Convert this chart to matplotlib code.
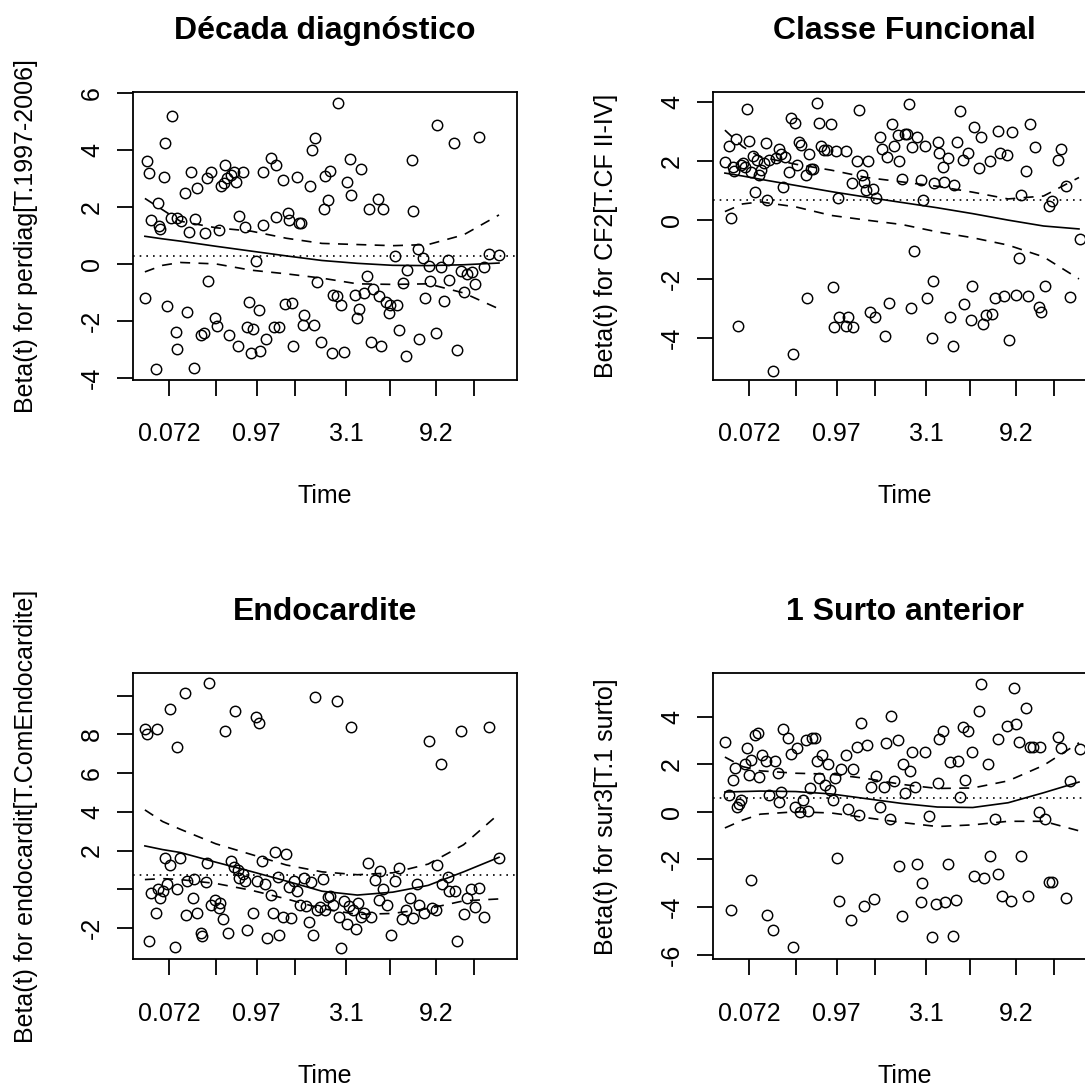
import matplotlib
matplotlib.use("Agg")
import matplotlib.pyplot as plt

plt.rcParams['font.family'] = ['Liberation Sans', 'DejaVu Sans']
plt.rcParams['axes.unicode_minus'] = False

# x axis is the km-transformed time (0..1), ticks show the real time
time_ticks = [0.068, 0.201, 0.316, 0.425, 0.568, 0.693, 0.822, 0.93]
time_labels = ['0.072', '', '0.97', '', '3.1', '', '9.2', '']

# grid of the smoothed beta(t) curves
fit_x = [0, 0.05, 0.1, 0.2, 0.3, 0.4, 0.5, 0.6, 0.7, 0.8, 0.9, 1.0]

# ---- Decada diagnostico (perdiag) ----
perdiag_pts = [(0.006,3.62),(0.011,3.2),(0.0,-1.21),(0.016,1.55),(0.036,2.15),(0.040,1.33),(0.044,1.21),(0.030,-3.68),
    (0.057,4.26),(0.077,5.18),(0.054,3.06),(0.062,-1.49),(0.074,1.6),(0.087,-2.38),(0.091,-2.98),(0.091,1.6),(0.101,1.5),
    (0.114,2.5),(0.119,-1.69),(0.124,1.12),(0.131,3.22),(0.141,1.57),(0.138,-3.66),(0.148,2.66),(0.159,-2.48),(0.166,-2.43),
    (0.171,1.07),(0.174,3.0),(0.179,-0.6),(0.187,3.24),(0.197,-1.9),(0.203,-2.17),(0.21,1.18),(0.214,2.72),(0.227,3.49),
    (0.223,2.84),(0.232,3.02),(0.237,-2.48),(0.244,3.12),(0.252,3.24),(0.257,2.87),(0.262,-2.87),(0.267,1.67),(0.277,3.24),
    (0.283,1.3),(0.293,-1.33),(0.289,-2.23),(0.304,-2.29),(0.300,-3.12),(0.315,0.11),(0.322,-1.63),(0.325,-3.06),(0.334,3.22),
    (0.334,1.36),(0.342,-2.63),(0.356,3.73),(0.364,-2.23),(0.370,3.49),(0.380,-2.23),(0.390,2.93),(0.369,1.65),(0.396,-1.41),
    (0.404,1.78),(0.406,1.53),(0.415,-1.37),(0.419,-2.9),(0.429,3.04),(0.435,1.45),(0.442,1.45),(0.450,-1.78),(0.446,-2.14),
    (0.466,2.72),(0.471,3.99),(0.48,4.41),(0.478,-2.14),(0.485,-0.64),(0.497,-2.74),(0.505,1.93),(0.508,3.1),(0.517,2.26),
    (0.523,3.26),(0.527,-3.14),(0.532,-1.1),(0.542,-1.11),(0.544,5.64),(0.554,-1.45),(0.563,-3.1),(0.572,2.86),(0.578,3.68),
    (0.583,2.42),(0.592,-1.09),(0.599,-1.9),(0.605,-1.57),(0.61,3.35),(0.619,-1.03),(0.628,-0.42),(0.633,1.93),(0.639,-2.75),
    (0.645,-0.88),(0.657,2.29),(0.660,-1.12),(0.667,-2.87),(0.672,1.93),(0.680,-1.33),(0.688,-1.73),(0.693,-1.45),(0.707,0.28),
    (0.712,-1.45),(0.717,-2.33),(0.729,-0.66),(0.736,-3.24),(0.740,-0.22),(0.753,3.65),(0.758,1.87),(0.770,0.54),(0.775,-2.62),
    (0.784,0.21),(0.792,-1.21),(0.801,-0.06),(0.806,-0.6),(0.821,-2.42),(0.826,4.89),(0.836,-0.12),(0.845,-1.29),(0.855,0.14),
    (0.858,-0.57),(0.874,4.26),(0.882,-3.04),(0.892,-0.24),(0.901,-0.97),(0.909,-0.36),(0.923,-0.3),(0.933,-0.72),(0.943,4.47),
    (0.957,-0.12),(0.972,0.34),(0.999,0.33)]
perdiag_fit = [0.97, 0.88, 0.8, 0.62, 0.45, 0.28, 0.12, 0.02, -0.05, -0.06, -0.03, 0.03]
perdiag_up = [2.3, 1.9, 1.5, 1.27, 1.15, 0.9, 0.72, 0.68, 0.64, 0.68, 1.02, 1.72]
perdiag_lo = [-0.28, -0.05, 0.05, 0.0, -0.22, -0.35, -0.5, -0.7, -0.72, -0.7, -1.02, -1.58]
perdiag_coef = 0.28

# ---- Classe Funcional (CF2) ----
cf2_pts = [(0,1.96),(0.012,2.53),(0.017,0.08),(0.022,1.79),(0.026,1.68),(0.032,2.76),(0.038,-3.59),(0.046,1.88),(0.051,1.94),
    (0.056,1.82),(0.063,3.79),(0.069,2.68),(0.073,1.65),(0.078,2.18),(0.085,0.94),(0.092,2.06),(0.097,1.53),(0.103,1.71),
    (0.11,1.94),(0.115,2.62),(0.12,0.67),(0.125,2.06),(0.136,-5.12),(0.144,2.12),(0.152,2.41),(0.159,2.24),(0.164,1.12),
    (0.169,2.14),(0.182,1.65),(0.186,3.47),(0.193,-4.55),(0.198,3.29),(0.203,1.88),(0.208,2.65),(0.215,2.55),(0.228,1.53),
    (0.233,-2.65),(0.238,2.24),(0.244,1.74),(0.25,1.74),(0.26,3.99),(0.267,3.29),(0.272,2.53),(0.28,2.39),(0.287,2.39),
    (0.301,3.26),(0.306,-2.29),(0.313,2.35),(0.319,0.76),(0.323,-3.29),(0.309,-3.62),(0.341,2.35),(0.349,-3.29),(0.341,-3.61),
    (0.358,1.27),(0.362,-3.65),(0.373,2.0),(0.38,3.73),(0.388,1.53),(0.393,1.29),(0.398,1.02),(0.404,2.0),(0.409,-3.12),
    (0.419,1.06),(0.427,0.76),(0.424,-3.29),(0.439,2.82),(0.444,2.41),(0.451,-3.94),(0.457,2.15),(0.463,-2.82),(0.471,3.26),
    (0.478,2.53),(0.488,2.91),(0.493,2.02),(0.501,1.41),(0.508,2.94),(0.515,2.94),(0.519,3.94),(0.525,-2.98),(0.529,2.47),
    (0.535,-1.06),(0.542,2.82),(0.554,1.35),(0.559,0.67),(0.566,2.53),(0.571,-2.65),(0.584,-4.0),(0.588,-2.08),(0.591,1.26),
    (0.601,2.65),(0.606,2.29),(0.616,1.82),(0.62,1.29),(0.63,2.12),(0.635,-3.29),(0.643,-4.27),(0.648,1.18),(0.655,2.65),
    (0.663,3.71),(0.673,2.04),(0.676,-2.86),(0.686,2.29),(0.694,-3.41),(0.699,-2.24),(0.704,3.18),(0.719,1.76),(0.724,2.82),
    (0.728,-3.53),(0.738,-3.21),(0.748,2.0),(0.753,-3.18),(0.763,-2.65),(0.771,3.02),(0.777,2.29),(0.787,-2.59),(0.797,2.2),
    (0.802,-4.09),(0.812,2.98),(0.822,-2.53),(0.83,-1.29),(0.836,0.85),(0.851,1.67),(0.856,-2.59),(0.863,3.26),(0.876,2.47),
    (0.886,-2.94),(0.892,-3.12),(0.905,-2.24),(0.915,0.47),(0.925,0.65),(0.94,2.04),(0.949,2.41),(0.964,1.15),(0.974,-2.62),
    (1.003,-0.65)]
cf2_fit = [1.6, 1.5, 1.39, 1.18, 0.97, 0.78, 0.6, 0.42, 0.22, 0.0, -0.2, -0.3]
cf2_up = [3.06, 2.5, 2.15, 1.9, 1.7, 1.45, 1.3, 1.15, 0.95, 0.72, 0.82, 1.45]
cf2_lo = [0.29, 0.55, 0.62, 0.45, 0.16, 0.0, -0.15, -0.4, -0.6, -0.85, -1.25, -2.0]
cf2_coef = 0.7

# ---- Endocardite ----
endo_pts = [(0,8.29),(0.007,8.02),(0.012,-2.7),(0.016,-0.18),(0.03,-1.23),(0.035,8.29),(0.038,0.0),(0.043,-0.45),(0.05,-0.09),
    (0.056,1.59),(0.063,0.27),(0.07,1.26),(0.072,9.33),(0.085,-2.97),(0.091,7.35),(0.091,0.0),(0.1,1.59),(0.114,10.13),
    (0.116,-1.32),(0.12,0.45),(0.135,-0.45),(0.14,0.54),(0.147,-1.23),(0.158,-2.25),(0.162,-2.43),(0.172,0.36),(0.174,1.35),
    (0.18,10.67),(0.186,-0.81),(0.198,-0.54),(0.208,-0.99),(0.213,-0.72),(0.221,-1.53),(0.226,8.2),(0.235,-2.25),(0.242,1.44),
    (0.252,1.17),(0.255,9.23),(0.262,0.99),(0.267,0.58),(0.276,0.81),(0.283,0.45),(0.288,-2.13),(0.305,-1.23),(0.313,8.92),
    (0.322,8.61),(0.318,0.45),(0.332,1.44),(0.339,0.27),(0.344,-2.52),(0.357,-0.32),(0.362,-1.23),(0.367,1.93),(0.376,0.63),
    (0.38,-2.38),(0.39,-1.44),(0.398,1.8),(0.406,0.13),(0.412,-1.48),(0.422,0.45),(0.429,-0.09),(0.437,-0.81),(0.449,0.58),
    (0.456,-0.86),(0.464,-1.71),(0.469,0.36),(0.474,-2.38),(0.481,9.95),(0.487,-1.05),(0.495,-0.9),(0.503,0.54),(0.51,-1.08),
    (0.517,-0.4),(0.524,-0.36),(0.532,-0.81),(0.542,9.73),(0.549,-1.41),(0.553,-3.06),(0.563,-0.63),(0.571,-1.8),(0.575,-0.86),
    (0.583,8.38),(0.588,-1.08),(0.597,-2.07),(0.602,-0.72),(0.61,-1.41),(0.62,-1.23),(0.631,1.35),(0.639,-1.41),(0.651,0.5),
    (0.66,-0.54),(0.665,0.94),(0.672,0.0),(0.685,-0.81),(0.694,-2.34),(0.707,0.45),(0.717,1.08),(0.727,-1.53),(0.736,-1.08),
    (0.748,-0.45),(0.756,-1.5),(0.768,0.27),(0.775,-0.81),(0.789,-1.23),(0.802,7.66),(0.811,-0.99),(0.821,-1.05),(0.826,1.26),
    (0.836,6.49),(0.84,0.27),(0.855,0.63),(0.86,-0.09),(0.875,-0.09),(0.882,-2.67),(0.894,8.2),(0.901,-1.3),(0.909,-0.45),
    (0.92,0.0),(0.933,-0.9),(0.943,0.04),(0.957,-1.44),(0.972,8.38),(1.0,1.59)]
endo_fit = [2.24, 2.05, 1.9, 1.4, 0.92, 0.42, -0.1, -0.3, -0.15, 0.2, 0.9, 1.65]
endo_up = [4.1, 3.5, 3.1, 2.35, 1.8, 1.25, 0.9, 0.75, 0.85, 1.3, 2.3, 3.9]
endo_lo = [0.5, 0.55, 0.5, 0.3, -0.05, -0.5, -1.0, -1.3, -1.25, -1.0, -0.6, -0.5]
endo_coef = 0.72

# ---- 1 Surto anterior (sur3) ----
sur3_pts = [(0,2.95),(0.012,0.7),(0.017,-4.13),(0.024,1.35),(0.028,1.86),(0.034,0.19),(0.041,0.33),(0.046,0.48),(0.056,2.0),
    (0.063,2.66),(0.068,1.54),(0.074,-2.87),(0.074,2.18),(0.085,3.24),(0.093,3.32),(0.097,1.45),(0.105,2.37),(0.115,2.15),
    (0.12,-4.32),(0.125,0.7),(0.136,-4.97),(0.142,2.12),(0.149,1.64),(0.154,0.41),(0.159,0.84),(0.164,3.46),(0.179,3.1),
    (0.186,2.44),(0.193,-5.7),(0.198,0.19),(0.205,2.66),(0.211,-0.03),(0.22,0.48),(0.228,3.0),(0.235,0.04),(0.241,0.99),
    (0.247,3.1),(0.254,3.1),(0.26,2.15),(0.265,1.43),(0.274,2.37),(0.282,1.13),(0.29,2.0),(0.296,0.92),(0.306,0.48),
    (0.311,1.43),(0.316,-1.95),(0.323,-3.74),(0.329,1.79),(0.341,2.37),(0.349,0.12),(0.357,-4.54),(0.362,1.79),(0.372,2.73),
    (0.38,-0.15),(0.385,3.75),(0.394,-3.96),(0.402,2.81),(0.414,1.06),(0.421,-3.67),(0.427,1.5),(0.437,0.19),(0.449,1.03),
    (0.454,2.88),(0.466,-0.29),(0.47,4.04),(0.478,1.28),(0.488,3.03),(0.493,-2.28),(0.5,-4.36),(0.503,2.0),(0.51,0.81),
    (0.522,1.72),(0.529,2.52),(0.537,1.06),(0.542,-2.21),(0.557,-3.01),(0.564,2.52),(0.555,-3.81),(0.576,-0.17),(0.584,-5.27),
    (0.596,-3.88),(0.601,1.21),(0.606,3.05),(0.616,3.39),(0.623,-3.81),(0.63,-2.21),(0.635,2.08),(0.645,-5.24),(0.653,-3.69),
    (0.658,2.12),(0.663,0.63),(0.672,3.58),(0.679,1.35),(0.686,3.39),(0.699,2.52),(0.704,-2.72),(0.719,4.22),(0.724,5.35),
    (0.731,-2.79),(0.743,2.0),(0.748,-1.85),(0.762,-0.32),(0.771,-2.62),(0.77,3.05),(0.782,-3.55),(0.798,3.61),(0.807,-3.74),
    (0.817,5.21),(0.822,3.68),(0.831,2.95),(0.836,-1.85),(0.849,4.36),(0.856,-3.55),(0.861,2.71),(0.871,2.71),(0.886,-0.03),
    (0.89,2.71),(0.905,-0.32),(0.915,-2.97),(0.925,-2.97),(0.94,3.14),(0.949,2.66),(0.964,-3.64),(0.974,1.28),(1.003,2.62)]
sur3_fit = [0.83, 0.85, 0.87, 0.85, 0.75, 0.55, 0.35, 0.2, 0.18, 0.38, 0.8, 1.25]
sur3_up = [2.3, 1.9, 1.72, 1.62, 1.58, 1.4, 1.15, 0.98, 1.0, 1.3, 1.95, 2.9]
sur3_lo = [-0.68, -0.35, -0.1, 0.0, -0.05, -0.25, -0.45, -0.62, -0.55, -0.4, -0.4, -0.8]
sur3_coef = 0.6

W, H = 1085, 1087
fig = plt.figure(figsize=(W / 100, H / 100), dpi=100)
PX = 0.72  # points per pixel at dpi 100


def panel(box, pts, fit, up, lo, coef, ylim, yticks, ylabels, title, ylab):
    left, top, width, height = box  # in pixels
    ax = fig.add_axes([left / W, 1 - (top + height) / H, width / W, height / H])
    xs = [p[0] for p in pts]
    ys = [p[1] for p in pts]
    ax.plot(xs, ys, 'o', ms=7.5, mfc='none', mec='black', mew=1.05)
    ax.plot(fit_x, fit, '-', color='black', lw=1.2)
    ax.plot(fit_x, up, color='black', lw=1.2, dashes=(6, 5))
    ax.plot(fit_x, lo, color='black', lw=1.2, dashes=(6, 5))
    ax.axhline(coef, color='black', lw=1.2, dashes=(1, 3))
    ax.set_xlim(-0.035, 1.05)
    ax.set_ylim(*ylim)
    ax.set_xticks(time_ticks, time_labels)
    ax.set_yticks(yticks, ylabels, rotation=90, va='center')
    for s in ax.spines.values():
        s.set_linewidth(1.3)
    ax.tick_params(direction='out', length=11.5, width=1.3, labelsize=18, colors='black')
    ax.tick_params(axis='x', pad=19)
    ax.tick_params(axis='y', pad=9)
    ax.annotate(title, xy=(0.5, 1), xycoords='axes fraction', xytext=(0, 61.5 * PX),
                textcoords='offset points', ha='center', va='center', fontsize=23, fontweight='bold')
    ax.annotate('Time', xy=(0.5, 0), xycoords='axes fraction', xytext=(0, -116.7 * PX),
                textcoords='offset points', ha='center', va='center', fontsize=18)
    ax.annotate(ylab, xy=(0, 0.5), xycoords='axes fraction', xytext=(-106 * PX, 0),
                textcoords='offset points', ha='center', va='center', rotation=90, fontsize=18)
    return ax


panel((132.5, 92.5, 384.2, 287), perdiag_pts, perdiag_fit, perdiag_up, perdiag_lo, perdiag_coef,
      (-4.06, 6.02), [-4, -2, 0, 2, 4, 6], ['-4', '-2', '0', '2', '4', '6'],
      'Década diagnóstico', 'Beta(t) for perdiag[T.1997-2006]')
panel((712.5, 92.5, 384.2, 287), cf2_pts, cf2_fit, cf2_up, cf2_lo, cf2_coef,
      (-5.42, 4.34), [-4, -2, 0, 2, 4], ['-4', '-2', '0', '2', '4'],
      'Classe Funcional', 'Beta(t) for CF2[T.CF II-IV]')
panel((132.5, 673.3, 384.2, 286), endo_pts, endo_fit, endo_up, endo_lo, endo_coef,
      (-3.62, 11.16), [-2, 0, 2, 4, 6, 8, 10], ['-2', '', '2', '4', '6', '8', ''],
      'Endocardite', 'Beta(t) for endocardit[T.ComEndocardite]')
panel((712.5, 673.3, 384.2, 286), sur3_pts, sur3_fit, sur3_up, sur3_lo, sur3_coef,
      (-6.2, 5.82), [-6, -4, -2, 0, 2, 4], ['-6', '-4', '-2', '0', '2', '4'],
      '1 Surto anterior', 'Beta(t) for sur3[T.1 surto]')

fig.savefig('out.png', dpi=100)
